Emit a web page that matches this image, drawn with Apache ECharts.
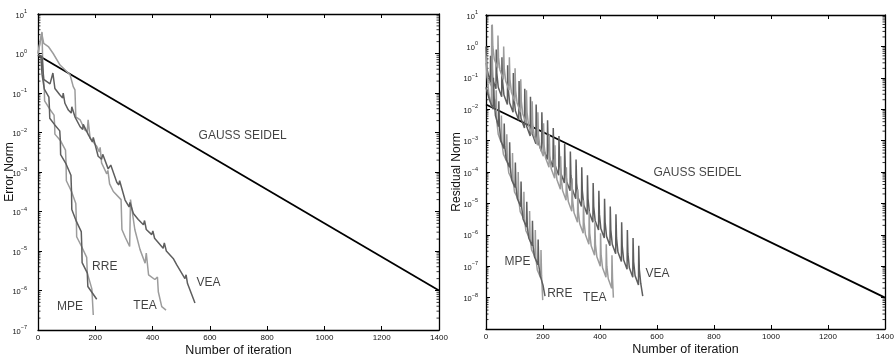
<!DOCTYPE html>
<html><head><meta charset="utf-8">
<script src="https://cdn.jsdelivr.net/npm/echarts@6/dist/echarts.min.js"></script>
<style>html,body{margin:0;padding:0;background:#fff}#c{width:895px;height:357px}</style>
</head><body><div id="c"></div>
<script>
// ---------- axes / text ----------
const xMin = 0, xMax = 1400, xStep = 200;
const leftYMin = 1e-7, leftYMax = 10;
const rightYMin = 1e-9, rightYMax = 10;
const xName = 'Number of iteration';
const leftYName = 'Error Norm';
const rightYName = 'Residual Norm';
const hiddenRightExponents = [-9];

// ---------- left panel (error norm) ----------
const leftGS = [[0, 0.9], [1400, 1.0e-6]];
const leftMPE = [[0,1.0],[14,3.5],[17,0.4],[22,0.126],[23,0.063],[40,0.04],[56,0.0275],[58,0.0158],[59,0.0091],[78,0.0063],[96,0.0036],[98,0.0016],[99,6.0e-4],[117,3.2e-4],[132,1.6e-4],[134,5.6e-5],[135,2.3e-5],[153,1.26e-5],[170,6.9e-6],[172,2.8e-6],[188,1.1e-6],[190,1.0e-6],[193,2.4e-7]];
const leftRRE = [[0,0.9],[10,0.85],[14,0.3],[22,0.126],[38,0.079],[40,0.04],[41,0.023],[58,0.0158],[76,0.011],[78,0.0063],[79,0.00275],[98,0.0016],[115,8.3e-4],[117,3.2e-4],[118,1.12e-4],[134,5.6e-5],[151,3.1e-5],[153,1.26e-5],[154,5.1e-6],[172,2.8e-6],[174,1.26e-6],[205,6.0e-7]];
const leftTEA = [[0,1.0],[13,3.3],[20,1.8],[36,1.5],[53,1.0],[77,0.51],[112,0.29],[123,0.145],[129,0.12],[132,0.025],[147,0.021],[164,0.0115],[172,0.0105],[175,0.021],[182,0.0071],[205,0.0045],[214,0.0032],[217,0.0042],[222,0.0017],[240,9.0e-4],[244,1.1e-3],[250,5.0e-4],[263,3.2e-4],[290,2.0e-4],[293,3.5e-5],[305,2.2e-5],[320,1.3e-5],[323,2.0e-4],[338,3.5e-5],[356,1.1e-5],[374,4.9e-6],[378,8.9e-6],[386,2.5e-6],[408,1.9e-6],[417,2.2e-6],[420,9.3e-7],[432,3.9e-7],[447,3.2e-7]];
const leftVEA = [[0,0.9],[14,0.85],[20,0.22],[42,0.17],[52,0.32],[59,0.13],[76,0.09],[86,0.075],[88,0.1],[94,0.055],[106,0.037],[116,0.031],[118,0.045],[129,0.025],[147,0.014],[156,0.012],[158,0.016],[176,0.0087],[190,0.0058],[193,0.0075],[210,0.0025],[222,0.0021],[226,0.0028],[245,0.0012],[251,0.0011],[254,0.0015],[275,5.5e-4],[282,4.7e-4],[285,6.0e-4],[304,1.95e-4],[318,1.3e-4],[321,1.7e-4],[333,8.9e-5],[350,6.3e-5],[368,4.6e-5],[372,5.9e-5],[378,3.5e-5],[397,2.6e-5],[401,3.2e-5],[407,2.1e-5],[437,1.17e-5],[441,1.6e-5],[448,1.0e-5],[472,6.5e-6],[478,7.1e-6],[484,4.5e-6],[513,2.0e-6],[517,2.5e-6],[522,1.5e-6],[548,4.8e-7]];
const leftLabels = [['GAUSS SEIDEL',559,8.1e-3],['RRE',187,4.0e-6],['MPE',65,3.9e-7],['TEA',331,4.1e-7],['VEA',552,1.55e-6]];

// ---------- right panel (residual norm) ----------
const rightGS = [[0, 0.0141], [1400, 1.0e-8]];
const rightMPE = [[0,0.3],[10,0.03],[19,0.012],[20,4.8],[23,0.2],[28,0.025],[35,0.011],
[36,0.04],[38,4.07e-3],[43,1.58e-3],[53,8.9e-4],
[54,6.3e-3],[56,8.5e-4],[61,3.7e-4],[72,2.24e-4],
[73,1.58e-3],[75,2.14e-4],[80,9.3e-5],[92,5.6e-5],
[93,4.0e-4],[95,5.4e-5],[100,2.34e-5],[112,1.41e-5],
[113,1.0e-4],[115,1.29e-5],[120,5.5e-6],[132,3.3e-6],
[133,2.34e-5],[135,3.16e-6],[140,1.35e-6],[152,8.1e-7],
[153,5.75e-6],[155,7.6e-7],[160,3.3e-7],[172,2.0e-7],
[173,1.41e-6],[175,1.82e-7],[180,7.6e-8],[192,4.2e-8],
[193,3.3e-7],[195,5.0e-8],[199,8.3e-9]];
const rightRRE = [[0,0.05],[12,0.02],[25,0.01],
[26,0.1],[28,0.025],[33,6.3e-3],[44,2.8e-3],
[45,0.0178],[47,2.8e-3],[52,1.0e-3],[63,5.6e-4],
[64,3.5e-3],[66,6.3e-4],[71,2.5e-4],[82,1.41e-4],
[83,8.9e-4],[85,1.41e-4],[90,5.6e-5],[102,3.2e-5],
[103,2.0e-4],[105,3.5e-5],[110,1.41e-5],[122,7.9e-6],
[123,5.0e-5],[125,7.9e-6],[130,3.2e-6],[142,1.78e-6],
[143,1.12e-5],[145,1.78e-6],[150,7.9e-7],[162,4.5e-7],
[163,2.8e-6],[165,4.5e-7],[170,2.0e-7],[182,1.12e-7],
[183,7.1e-7],[185,1.12e-7],[190,5.0e-8],[200,2.5e-8],[207,1.12e-8]];
const rightTEA = [[0,0.5],[5,0.1],[21,0.05],
[22,5.01],[24,1.0],[29,0.398],[41,0.2],
[42,2.24],[44,0.447],[49,0.178],[61,0.0891],
[62,1.0],[64,0.2],[69,0.0794],[81,0.0398],
[82,0.447],[84,0.0891],[89,0.0355],[101,0.0178],
[102,0.2],[104,0.0398],[109,0.0158],[121,7.94e-3],
[122,0.0891],[124,0.0178],[129,7.08e-3],[141,3.55e-3],
[142,0.0398],[144,7.94e-3],[149,3.16e-3],[161,1.58e-3],
[162,0.0178],[164,3.55e-3],[169,1.41e-3],[181,7.08e-4],
[182,7.94e-3],[184,1.58e-3],[189,6.31e-4],[201,3.16e-4],
[202,3.55e-3],[204,7.08e-4],[209,2.82e-4],[221,1.41e-4],
[222,1.58e-3],[224,3.16e-4],[229,1.26e-4],[241,6.31e-5],
[242,7.08e-4],[244,1.41e-4],[249,5.62e-5],[261,2.82e-5],
[262,3.16e-4],[264,6.31e-5],[269,2.51e-5],[281,1.26e-5],
[282,1.41e-4],[284,2.82e-5],[289,1.12e-5],[301,5.62e-6],
[302,6.31e-5],[304,1.26e-5],[309,5.01e-6],[321,2.51e-6],
[322,2.82e-5],[324,5.62e-6],[329,2.24e-6],[341,1.12e-6],
[342,1.26e-5],[344,2.51e-6],[349,1.0e-6],[361,5.01e-7],
[362,5.62e-6],[364,1.12e-6],[369,4.47e-7],[381,2.24e-7],
[382,2.51e-6],[384,5.01e-7],[389,2.0e-7],[401,1.0e-7],
[402,1.12e-6],[404,2.24e-7],[409,8.91e-8],[421,4.47e-8],
[422,5.01e-7],[424,1.0e-7],[429,3.98e-8],[441,2.0e-8],
[442,2.24e-7],[444,3.98e-8],[447,1.0e-8]];
const rightVEA = [[0,1.0],[3,0.2],[15,0.07],
[16,0.5],[18,0.2],[23,0.0891],[35,0.0447],
[36,0.794],[38,0.141],[43,0.0501],[55,0.0251],
[56,0.447],[58,0.0794],[63,0.0282],[75,0.0141],
[76,0.251],[78,0.0447],[83,0.0158],[95,7.94e-3],
[96,0.141],[98,0.0251],[103,8.91e-3],[115,4.47e-3],
[116,0.0794],[118,0.0141],[123,5.01e-3],[135,2.51e-3],
[136,0.0447],[138,7.94e-3],[143,2.82e-3],[155,1.41e-3],
[156,0.0251],[158,4.47e-3],[163,1.58e-3],[175,7.94e-4],
[176,0.0141],[178,2.51e-3],[183,8.91e-4],[195,4.47e-4],
[196,7.94e-3],[198,1.41e-3],[203,5.01e-4],[215,2.51e-4],
[216,4.47e-3],[218,7.94e-4],[223,2.82e-4],[235,1.41e-4],
[236,2.51e-3],[238,4.47e-4],[243,1.58e-4],[255,7.94e-5],
[256,1.41e-3],[258,2.51e-4],[263,8.91e-5],[275,4.47e-5],
[276,7.94e-4],[278,1.41e-4],[283,5.01e-5],[295,2.51e-5],
[296,4.47e-4],[298,7.94e-5],[303,2.82e-5],[315,1.41e-5],
[316,2.51e-4],[318,4.47e-5],[323,1.58e-5],[335,7.94e-6],
[336,1.41e-4],[338,2.51e-5],[343,8.91e-6],[355,4.47e-6],
[356,7.94e-5],[358,1.41e-5],[363,5.01e-6],[375,2.51e-6],
[376,4.47e-5],[378,7.94e-6],[383,2.82e-6],[395,1.41e-6],
[396,2.51e-5],[398,4.47e-6],[403,1.58e-6],[415,7.94e-7],
[416,1.41e-5],[418,2.51e-6],[423,8.91e-7],[435,4.47e-7],
[436,7.94e-6],[438,1.41e-6],[443,5.01e-7],[455,2.51e-7],
[456,4.47e-6],[458,7.94e-7],[463,2.82e-7],[475,1.41e-7],
[476,2.51e-6],[478,4.47e-7],[483,1.58e-7],[495,7.94e-8],
[496,1.41e-6],[498,2.51e-7],[503,8.91e-8],[515,4.47e-8],
[516,7.94e-7],[518,1.41e-7],[523,5.01e-8],[535,2.51e-8],
[536,4.47e-7],[538,7.94e-8],[543,2.82e-8],[550,1.12e-8]];
const rightLabels = [['GAUSS SEIDEL',586,9.6e-5],['MPE',63,1.38e-7],['RRE',213,1.29e-8],['TEA',339,1.0e-8],['VEA',558,5.8e-8]];

// ---------- styling ----------
const FONT = '"Liberation Sans", Arial, Helvetica, sans-serif';
const LIGHT = '#9c9c9c', DARK = '#5e5e5e', BLACK = '#000';
const TXT = '#111';

function minorTickValues(lo, hi) {
  const out = [];
  for (let e = Math.round(Math.log10(lo)); e < Math.round(Math.log10(hi)); e++) {
    for (let k = 2; k <= 9; k++) out.push([0, k * Math.pow(10, e)]);
  }
  return out;
}

function expLabel(hidden) {
  return function (v) {
    const e = Math.round(Math.log10(v));
    if (hidden && hidden.indexOf(e) >= 0) return '';
    const s = e < 0 ? '\u2212' + (-e) : String(e);
    return '{b|10}{s|' + s + '}';
  };
}
const richExp = {
  b: {fontSize: 7.5, color: TXT, fontFamily: FONT, verticalAlign: 'bottom'},
  s: {fontSize: 5.5, color: TXT, fontFamily: FONT, padding: [0, 0, 5, 0], verticalAlign: 'bottom'}
};

function xAxisDef(gi, pos) {
  return {
    type: 'value', gridIndex: gi, position: pos, min: xMin, max: xMax, interval: xStep,
    axisLine: {show: true, onZero: false, lineStyle: {color: BLACK, width: 1.3}},
    axisTick: {show: true, inside: true, length: 4, lineStyle: {color: BLACK, width: 1}},
    axisLabel: {show: pos === 'bottom', fontSize: 8, color: TXT, fontFamily: FONT, margin: 4,
      formatter: function (v) { return String(v); }},
    splitLine: {show: false},
    name: pos === 'bottom' ? xName : '', nameLocation: 'middle', nameGap: 14, nameMoveOverlap: false,
    nameTextStyle: {fontSize: 12.5, color: TXT, fontFamily: FONT}
  };
}
function yAxisDef(gi, pos, lo, hi, name, margin, hidden, gap) {
  return {
    type: 'log', logBase: 10, gridIndex: gi, position: pos, min: lo, max: hi, interval: 1,
    axisLine: {show: true, onZero: false, lineStyle: {color: BLACK, width: 1.3}},
    axisTick: {show: true, inside: true, length: 4, lineStyle: {color: BLACK, width: 1}},
    axisLabel: {show: pos === 'left', formatter: expLabel(hidden), rich: richExp, margin: margin},
    splitLine: {show: false}, minorTick: {show: false},
    name: pos === 'left' ? name : '', nameLocation: 'middle', nameGap: gap, nameRotate: 90,
    nameMoveOverlap: false,
    nameTextStyle: {fontSize: 12, color: TXT, fontFamily: FONT}
  };
}

function lineSeries(data, color, width, xi, yi, z) {
  return {type: 'line', data: data, xAxisIndex: xi, yAxisIndex: yi, showSymbol: false, symbol: 'none',
    lineStyle: {color: color, width: width}, itemStyle: {color: color}, z: z, silent: true, animation: false};
}
function minorSeries(lo, hi, xi, yi) {
  return {
    type: 'custom', xAxisIndex: xi, yAxisIndex: yi, data: minorTickValues(lo, hi), silent: true, z: 1,
    renderItem: function (params, api) {
      const y = api.coord([xMin, api.value(1)])[1];
      const cs = params.coordSys;
      return {type: 'group', children: [
        {type: 'line', shape: {x1: cs.x, y1: y, x2: cs.x + 2.5, y2: y}, style: {stroke: BLACK, lineWidth: 0.8}},
        {type: 'line', shape: {x1: cs.x + cs.width - 2.5, y1: y, x2: cs.x + cs.width, y2: y}, style: {stroke: BLACK, lineWidth: 0.8}}
      ]};
    }
  };
}
function labelSeries(items, xi, yi) {
  return {
    type: 'scatter', xAxisIndex: xi, yAxisIndex: yi, symbolSize: 1, silent: true, z: 10,
    itemStyle: {color: 'rgba(0,0,0,0)'},
    data: items.map(function (it) { return {name: it[0], value: [it[1], it[2]]}; }),
    label: {show: true, position: 'right', distance: 0, formatter: '{b}', color: TXT, fontFamily: FONT,
      fontSize: 12},
    labelLayout: {hideOverlap: false}
  };
}

const chart = echarts.init(document.getElementById('c'), null, {renderer: 'canvas'});
chart.setOption({
  animation: false,
  backgroundColor: '#fff',
  grid: [
    {left: 38, top: 14, width: 401, height: 316, outerBoundsMode: 'none', containLabel: false},
    {left: 486, top: 15, width: 399, height: 314, outerBoundsMode: 'none', containLabel: false}
  ],
  xAxis: [xAxisDef(0, 'bottom'), xAxisDef(0, 'top'), xAxisDef(1, 'bottom'), xAxisDef(1, 'top')],
  yAxis: [
    yAxisDef(0, 'left', leftYMin, leftYMax, leftYName, 11, null, 22),
    yAxisDef(0, 'right', leftYMin, leftYMax, '', 11, null, 22),
    yAxisDef(1, 'left', rightYMin, rightYMax, rightYName, 8, hiddenRightExponents, 23),
    yAxisDef(1, 'right', rightYMin, rightYMax, '', 8, null, 23)
  ],
  series: [
    minorSeries(leftYMin, leftYMax, 0, 0),
    minorSeries(rightYMin, rightYMax, 2, 2),
    lineSeries(leftGS, BLACK, 1.8, 0, 0, 2),
    lineSeries(leftMPE, LIGHT, 1.5, 0, 0, 3),
    lineSeries(leftRRE, DARK, 1.5, 0, 0, 3),
    lineSeries(leftTEA, LIGHT, 1.5, 0, 0, 3),
    lineSeries(leftVEA, DARK, 1.5, 0, 0, 3),
    lineSeries(rightGS, BLACK, 1.8, 2, 2, 2),
    lineSeries(rightMPE, LIGHT, 1.5, 2, 2, 3),
    lineSeries(rightRRE, DARK, 1.5, 2, 2, 3),
    lineSeries(rightVEA, DARK, 1.5, 2, 2, 3),
    lineSeries(rightTEA, LIGHT, 1.5, 2, 2, 3),
    labelSeries(leftLabels, 0, 0),
    labelSeries(rightLabels, 2, 2)
  ]
});
</script>
</body></html>
